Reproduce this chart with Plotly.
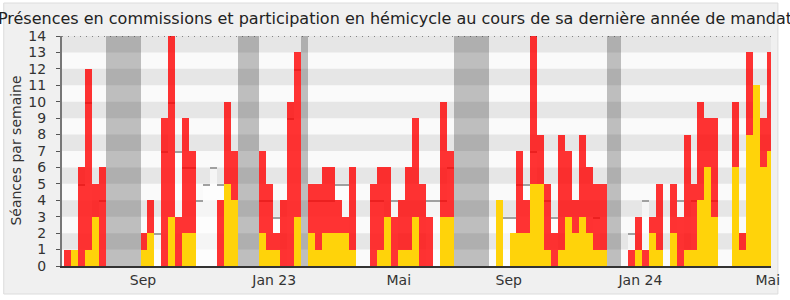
import plotly.graph_objects as go

# ---------------- data ----------------
weeks = list(range(102))

presences = [
    1, 1, 6, 12, 5, 6, 0, 0, 0, 0,
    0, 2, 4, 0, 9, 14, 3, 9, 7, 0,
    0, 0, 4, 10, 7, 0, 0, 0, 7, 5,
    2, 4, 10, 13, 0, 5, 5, 6, 6, 4,
    3, 6, 0, 0, 5, 6, 6, 3, 4, 6,
    9, 5, 3, 0, 10, 7, 0, 0, 0, 0,
    0, 0, 4, 0, 2, 7, 4, 14, 8, 5,
    2, 8, 7, 4, 8, 6, 5, 5, 0, 0,
    0, 1, 3, 1, 3, 5, 0, 5, 3, 8,
    5, 10, 9, 9, 0, 0, 10, 2, 13, 11,
    9, 13,
]

participations = [
    0, 1, 0, 1, 3, 0, 0, 0, 0, 0,
    0, 1, 2, 0, 0, 3, 0, 2, 2, 0,
    0, 0, 0, 5, 4, 0, 0, 0, 2, 1,
    1, 0, 0, 3, 0, 2, 1, 2, 2, 2,
    2, 1, 0, 0, 0, 1, 3, 0, 1, 1,
    3, 0, 0, 0, 3, 3, 0, 0, 0, 0,
    0, 0, 4, 0, 2, 2, 2, 5, 5, 1,
    0, 1, 3, 2, 3, 2, 1, 1, 0, 0,
    0, 0, 1, 0, 2, 1, 0, 2, 0, 1,
    1, 4, 6, 3, 0, 0, 6, 1, 8, 11,
    6, 7,
]

N = None
medianes = [
    N, N, 5, 10, N, 4, N, N, N, N,
    N, N, N, 2, 7, 10, 7, 6, 6, 4,
    5, 6, 5, N, N, N, N, N, 4, 4,
    3, N, 9, 12, N, 4, 4, 4, 4, 5,
    5, N, N, N, 4, 4, N, 4, N, N,
    N, N, 4, 4, 4, 6, N, N, N, N,
    N, N, N, 3, 3, 5, 5, 7, N, 4,
    3, N, N, N, N, N, 3, N, N, N,
    N, 2, N, 4, N, N, N, N, 4, N,
    4, N, N, 4, N, N, N, N, N, N,
    N, N,
]

vacances = [6, 7, 8, 9, 10, 25, 26, 27, 34, 56, 57, 58, 59, 60, 78, 79]

tick_positions = [10.85, 29.7, 47.6, 63.4, 82.3, 100.6]
tick_labels = ["Sep", "Jan 23", "Mai", "Sep", "Jan 24", "Mai"]

y_max = 14

# ---------------- figure ----------------
FONT = "DejaVu Sans"
W, H = 790, 300
ML, MR, MT, MB = 62, 10, 36, 34
PW, PH = W - ML - MR, H - MT - MB


def px_x(px):
    return (px - ML) / PW


def px_y(py):
    return (H - MB - py) / PH


fig = go.Figure()

# vacations
fig.add_trace(go.Bar(
    x=vacances, y=[y_max] * len(vacances), width=1,
    marker=dict(color="rgba(0,0,0,0.24)", line=dict(width=0)),
    hoverinfo="skip", showlegend=False,
))

# median light bars
med_x = [w for w, m in zip(weeks, medianes) if m is not None]
med_y = [m for m in medianes if m is not None]
fig.add_trace(go.Bar(
    x=med_x, y=med_y, width=1,
    marker=dict(color="rgba(255,255,255,0.6)", line=dict(width=0)),
    hoverinfo="skip", showlegend=False,
))

# median top edge (thin bar so that it sits under the red bars)
edge = 0.09
fig.add_trace(go.Bar(
    x=med_x, y=[edge] * len(med_y), base=[m - edge for m in med_y], width=1,
    marker=dict(color="rgb(160,160,160)", line=dict(width=0)),
    hoverinfo="skip", showlegend=False,
))

# presences (red)
fig.add_trace(go.Bar(
    x=weeks, y=presences, width=1,
    marker=dict(color="rgba(255,0,0,0.8)", line=dict(width=0)),
    name="Présences", showlegend=False,
))

# participations (yellow)
fig.add_trace(go.Bar(
    x=weeks, y=participations, width=1,
    marker=dict(color="#ffd30a", line=dict(width=0)),
    name="Participations", showlegend=False,
))

shapes = []
# outer frame
shapes.append(dict(type="rect", xref="paper", yref="paper",
                   x0=px_x(3), x1=px_x(787), y0=px_y(294), y1=px_y(3),
                   fillcolor="#f0f0f0", line=dict(color="#dcdcdc", width=1),
                   layer="below"))
# plot area background
shapes.append(dict(type="rect", xref="paper", yref="paper",
                   x0=0, x1=1, y0=0, y1=1,
                   fillcolor="#fafafa", line=dict(width=0), layer="below"))
# stripes
for k in range(0, y_max, 2):
    shapes.append(dict(type="rect", xref="paper", yref="y",
                       x0=0, x1=1, y0=k + 1, y1=k + 2,
                       fillcolor="#e6e6e6", line=dict(width=0), layer="below"))
# top dotted line
shapes.append(dict(type="line", xref="paper", yref="y",
                   x0=0, x1=1, y0=y_max, y1=y_max,
                   line=dict(color="#222", width=1, dash="1px,5px"),
                   layer="above"))

fig.update_layout(
    width=W, height=H, autosize=False,
    margin=dict(l=ML, r=MR, t=MT, b=MB, pad=0),
    paper_bgcolor="white",
    plot_bgcolor="#fafafa",
    barmode="overlay", bargap=0,
    font=dict(family=FONT, size=14, color="#333"),
    title=dict(
        text="Présences en commissions et participation en hémicycle au cours de sa dernière année de mandat",
        x=0.5, xref="container", xanchor="center",
        y=1 - 18 / H, yref="container", yanchor="middle",
        font=dict(family=FONT, size=16, color="#222"),
    ),
    shapes=shapes,
    annotations=[dict(
        text="Séances par semaine", textangle=-90,
        xref="paper", yref="paper", x=px_x(15), y=0.5,
        xanchor="center", yanchor="middle", showarrow=False,
        font=dict(family=FONT, size=14, color="#333"),
    )],
    xaxis=dict(
        range=[-0.78, 101.06],
        tickmode="array", tickvals=tick_positions, ticktext=tick_labels,
        ticks="", showgrid=False, zeroline=False,
        showline=True, linecolor="#333", linewidth=2,
        tickfont=dict(family=FONT, size=14, color="#333"),
        fixedrange=True,
    ),
    yaxis=dict(
        range=[0, y_max],
        tickmode="array", tickvals=list(range(0, y_max + 1)),
        ticks="outside", ticklen=4, tickcolor="#555", tickwidth=1,
        ticklabelstandoff=7,
        showgrid=False, zeroline=False,
        showline=True, linecolor="#777", linewidth=2,
        tickfont=dict(family=FONT, size=14, color="#333"),
        fixedrange=True,
    ),
)

fig.write_html("out.html")
